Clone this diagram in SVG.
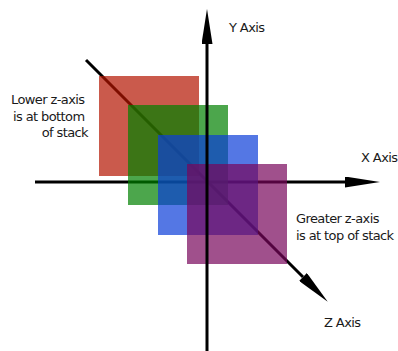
<svg xmlns="http://www.w3.org/2000/svg" width="398" height="351" viewBox="0 0 398 351">
  <style>
    .axis { stroke: #000; stroke-width: 3; fill: none; marker-end: url(#head); }
    .layer { stroke: none; opacity: 0.7; }
    .label { font-family: "DejaVu Sans", Verdana, sans-serif; font-size: 13px; letter-spacing: -0.6px; fill: #1a1a1a; }
  </style>
  <defs>
    <marker id="head" viewBox="0 0 35 11" refX="0" refY="5.5" markerWidth="35" markerHeight="11" markerUnits="userSpaceOnUse" orient="auto">
      <path d="M0,0 L35,5.5 L0,11 Z" fill="#000"/>
    </marker>
  </defs>

  <!-- axes drawn beneath the layers: X and Z -->
  <g id="axes-back">
    <line id="x-axis" class="axis" x1="35" y1="182" x2="345" y2="182"/>
    <line id="z-axis" class="axis" x1="86" y1="60" x2="303" y2="277"/>
  </g>

  <!-- stacked layers, lowest z first -->
  <g id="layer-red"><rect class="layer" x="99" y="76" width="100" height="100" fill="#b41400"/></g>
  <g id="layer-green"><rect class="layer" x="128" y="105" width="100" height="100" fill="#008000"/></g>
  <g id="layer-blue"><rect class="layer" x="158" y="135" width="100" height="100" fill="#0c3dd8"/></g>
  <g id="layer-purple"><rect class="layer" x="187" y="164" width="100" height="100" fill="#77055b"/></g>

  <!-- vertical axis sits on top of the layers -->
  <g id="axes-front">
    <line id="y-axis" class="axis" x1="207" y1="351" x2="207" y2="44"/>
  </g>

  <g id="labels">
    <text class="label" x="229" y="32">Y Axis</text>
    <text class="label" x="361" y="162">X Axis</text>
    <text class="label" x="324" y="327">Z Axis</text>
    <text class="label" text-anchor="end">
      <tspan x="88" y="104">Lower z-axis</tspan>
      <tspan x="88" y="120.5">is at bottom</tspan>
      <tspan x="88" y="137">of stack</tspan>
    </text>
    <text class="label">
      <tspan x="296" y="223">Greater z-axis</tspan>
      <tspan x="296" y="239.5">is at top of stack</tspan>
    </text>
  </g>
</svg>
